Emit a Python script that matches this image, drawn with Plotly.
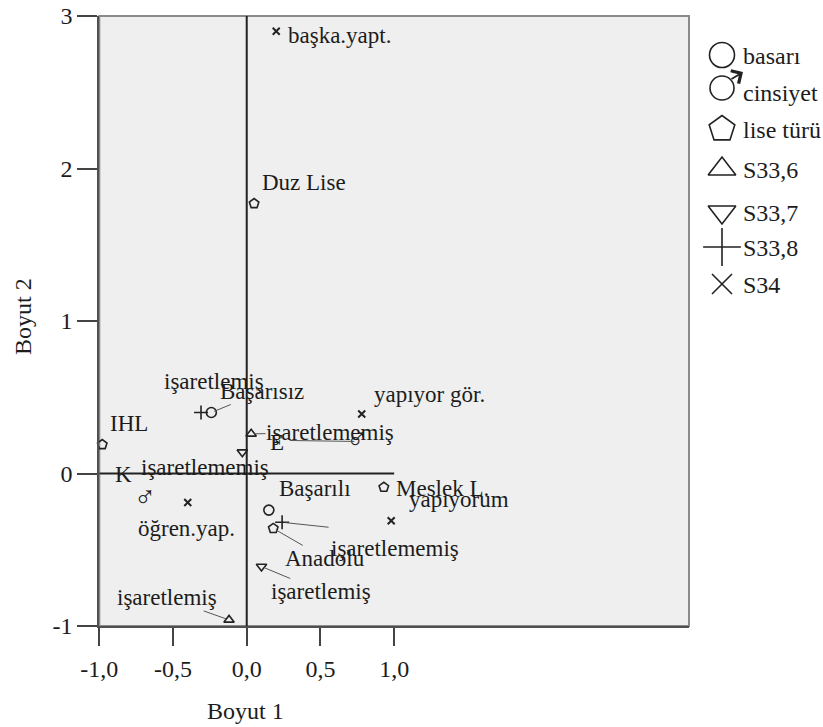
import plotly.graph_objects as go

W, H = 823, 727

# ---------------- data ----------------
groups = ["basarı", "cinsiyet", "lise türü", "S33,6", "S33,7", "S33,8", "S34"]

basari_labels = ["Başarısız", "Başarılı"]
basari_x = [-0.24, 0.15]
basari_y = [0.40, -0.24]

cinsiyet_labels = ["E", "K"]
cinsiyet_x = [0.75, -0.69]
cinsiyet_y = [0.21, -0.17]

lise_labels = ["Duz Lise", "IHL", "Meslek L.", "Anadolu"]
lise_x = [0.05, -0.98, 0.93, 0.18]
lise_y = [1.77, 0.19, -0.09, -0.36]

s336_labels = ["işaretlememiş", "işaretlemiş"]
s336_x = [0.03, -0.12]
s336_y = [0.26, -0.96]

s337_labels = ["işaretlememiş", "işaretlemiş"]
s337_x = [-0.03, 0.10]
s337_y = [0.14, -0.61]

s338_labels = ["işaretlemiş", "işaretlememiş"]
s338_x = [-0.31, 0.24]
s338_y = [0.40, -0.32]

s34_labels = ["başka.yapt.", "yapıyor gör.", "yapıyorum", "öğren.yap."]
s34_x = [0.20, 0.78, 0.98, -0.40]
s34_y = [2.90, 0.39, -0.31, -0.19]

x_tickvals = [-1.0, -0.5, 0.0, 0.5, 1.0]
x_ticktext = ["-1,0", "-0,5", "0,0", "0,5", "1,0"]
y_tickvals = [-1, 0, 1, 2, 3]
y_ticktext = ["-1", "0", "1", "2", "3"]

# ---------------- styling / layout helpers ----------------
SERIF = "Liberation Serif"
TXT = "#1c1c1c"
INK = "#222222"

# label placement: (dx, dy) pixel offset of label centre from point, leader line
# leader: None, "label" (line to the label box) or (lx, ly) pixel end of a separate line
label_place = {
    ("basarı", 0): (51, -21, "label"), ("basarı", 1): (46, -22, None),
    ("cinsiyet", 0): (-80, 1, (-68, -1)), ("cinsiyet", 1): (-22, -25, None),
    ("lise türü", 0): (50, -21, None), ("lise türü", 1): (27, -21, None),
    ("lise türü", 2): (59, 1, None), ("lise türü", 3): (52, 30, "label"),
    ("S33,6", 0): (79, -1, "label"), ("S33,6", 1): (-62, -22, "label"),
    ("S33,7", 0): (-37, 15, None), ("S33,7", 1): (60, 25, "label"),
    ("S33,8", 0): (13, -31, None), ("S33,8", 1): (113, 26, (47, 5)),
    ("S34", 0): (63, 4, None), ("S34", 1): (68, -20, None),
    ("S34", 2): (68, -21, None), ("S34", 3): (-1, 26, None),
}

series = {
    "basarı": (basari_x, basari_y, basari_labels),
    "cinsiyet": (cinsiyet_x, cinsiyet_y, cinsiyet_labels),
    "lise türü": (lise_x, lise_y, lise_labels),
    "S33,6": (s336_x, s336_y, s336_labels),
    "S33,7": (s337_x, s337_y, s337_labels),
    "S33,8": (s338_x, s338_y, s338_labels),
    "S34": (s34_x, s34_y, s34_labels),
}

marker_style = {
    "basarı": dict(symbol="circle-open", size=10, line=dict(width=1.6, color=INK)),
    "lise türü": dict(symbol="pentagon-open", size=10, line=dict(width=1.6, color=INK)),
    "S33,6": dict(symbol="triangle-up-open", size=9, line=dict(width=1.6, color=INK)),
    "S33,7": dict(symbol="triangle-down-open", size=9, line=dict(width=1.6, color=INK)),
    "S33,8": dict(symbol="cross-thin-open", size=10, line=dict(width=1.6, color=INK)),
    "S34": dict(symbol="x-thin-open", size=7, line=dict(width=2, color=INK)),
}

# plot area in pixels
PX_L, PX_R, PX_T, PX_B = 99.3, 689.0, 16.0, 626.0
XR = [-1.0, 3.0]
YR = [-1.0, 3.0]

fig = go.Figure()

for g in groups:
    xs, ys, labs = series[g]
    if g == "cinsiyet":
        fig.add_trace(go.Scatter(
            x=xs, y=ys, mode="text", text=["♂"] * len(xs),
            textfont=dict(family=SERIF, size=30, color=INK),
            textposition="middle center", showlegend=False, hoverinfo="skip",
            cliponaxis=False))
    else:
        fig.add_trace(go.Scatter(
            x=xs, y=ys, mode="markers", marker=dict(color=INK, **marker_style[g]),
            showlegend=False, hoverinfo="skip", cliponaxis=False))

annotations = []
LBL_FONT = dict(family=SERIF, size=23, color=TXT)
for g in groups:
    xs, ys, labs = series[g]
    for i, (xv, yv, lab) in enumerate(zip(xs, ys, labs)):
        dx, dy, leader = label_place[(g, i)]
        if leader == "label":
            annotations.append(dict(
                x=xv, y=yv, xref="x", yref="y", text=lab, showarrow=True,
                arrowhead=0, arrowwidth=1, arrowcolor="#555555", ax=dx, ay=dy,
                standoff=3, borderpad=0, font=LBL_FONT))
        else:
            annotations.append(dict(
                x=xv, y=yv, xref="x", yref="y", text=lab, showarrow=False,
                xanchor="center", yanchor="middle", xshift=dx, yshift=-dy,
                font=LBL_FONT))
            if isinstance(leader, tuple):
                annotations.append(dict(
                    x=xv, y=yv, xref="x", yref="y", text="", showarrow=True,
                    arrowhead=0, arrowwidth=1, arrowcolor="#555555",
                    ax=leader[0], ay=leader[1], standoff=3, borderpad=0,
                    font=dict(size=1)))

# axis titles
annotations.append(dict(x=246 / W, y=1 - 711 / H, xref="paper", yref="paper",
                        text="Boyut 1", showarrow=False, xanchor="center", yanchor="middle",
                        font=dict(family=SERIF, size=24, color=TXT)))
annotations.append(dict(x=23 / W, y=1 - 317 / H, xref="paper", yref="paper",
                        text="Boyut 2", showarrow=False, textangle=-90,
                        xanchor="center", yanchor="middle",
                        font=dict(family=SERIF, size=24, color=TXT)))

# ---------------- custom legend ----------------
leg_rows = [55, 88, 129, 169, 212, 247, 284]
leg_sym_x = 722
leg_txt_x = 742
leg_symbols = {
    "basarı": dict(symbol="circle-open", size=25),
    "cinsiyet": dict(symbol="circle-open", size=24),
    "lise türü": dict(symbol="pentagon-open", size=27),
    "S33,6": dict(symbol="triangle-up-open", size=24),
    "S33,7": dict(symbol="triangle-down-open", size=24),
    "S33,8": dict(symbol="cross-thin-open", size=27),
    "S34": dict(symbol="x-thin-open", size=20),
}
for g, ry in zip(groups, leg_rows):
    st = leg_symbols[g]
    fig.add_trace(go.Scatter(
        x=[leg_sym_x], y=[ry], mode="markers",
        marker=dict(symbol=st["symbol"], size=st["size"], color=INK,
                    line=dict(width=1.6, color=INK)),
        xaxis="x2", yaxis="y2", showlegend=False, hoverinfo="skip", cliponaxis=False))
    if g == "cinsiyet":
        # arrow of the male sign
        annotations.append(dict(x=leg_sym_x + 21, y=ry - 16, xref="x2", yref="y2",
                                ax=leg_sym_x + 8, ay=ry - 8, axref="x2", ayref="y2",
                                text="", showarrow=True, arrowhead=4, arrowsize=1.6,
                                arrowwidth=1.8, arrowcolor=INK))
    annotations.append(dict(x=leg_txt_x, y=ry + 1 + (4 if g == "cinsiyet" else 0),
                            xref="x2", yref="y2", text=g,
                            showarrow=False, xanchor="left", yanchor="middle", borderpad=0,
                            font=dict(family=SERIF, size=24, color=TXT)))

# background, frame and reference lines through origin
shapes = [
    dict(type="rect", xref="x domain", yref="y domain", x0=0, x1=1, y0=0, y1=1,
         line=dict(color="#8a8a8a", width=2), fillcolor="#efefef", layer="below"),
    dict(type="line", xref="x", yref="y", x0=0, x1=0, y0=YR[0], y1=YR[1],
         line=dict(color=INK, width=2)),
    dict(type="line", xref="x", yref="y", x0=XR[0], x1=1.0, y0=0, y1=0,
         line=dict(color=INK, width=2)),
]

fig.update_layout(
    template="none",
    width=W, height=H,
    margin=dict(l=0, r=0, t=0, b=0, pad=0, autoexpand=False),
    paper_bgcolor="white",
    plot_bgcolor="rgba(0,0,0,0)",
    showlegend=False,
    annotations=annotations,
    shapes=shapes,
    font=dict(family=SERIF, color=TXT),
    xaxis=dict(domain=[PX_L / W, PX_R / W], range=XR, showgrid=False, zeroline=False,
               automargin=False, anchor="y",
               tickmode="array", tickvals=x_tickvals, ticktext=x_ticktext,
               ticks="outside", ticklen=18, tickwidth=2, tickcolor="#444444",
               showline=True, linecolor="#505050", linewidth=2,
               ticklabelstandoff=2,
               tickfont=dict(family=SERIF, size=24, color=TXT), fixedrange=True),
    yaxis=dict(domain=[1 - PX_B / H, 1 - PX_T / H], range=YR, showgrid=False, zeroline=False,
               automargin=False, anchor="x",
               tickmode="array", tickvals=y_tickvals, ticktext=y_ticktext,
               ticks="outside", ticklen=20, tickwidth=2, tickcolor="#444444",
               showline=True, linecolor="#505050", linewidth=2,
               tickfont=dict(family=SERIF, size=24, color=TXT), fixedrange=True),
    xaxis2=dict(domain=[0, 1], range=[0, W], visible=False, anchor="y2",
                automargin=False, fixedrange=True),
    yaxis2=dict(domain=[0, 1], range=[H, 0], visible=False, anchor="x2",
                automargin=False, fixedrange=True),
)

fig.write_html("out.html")
